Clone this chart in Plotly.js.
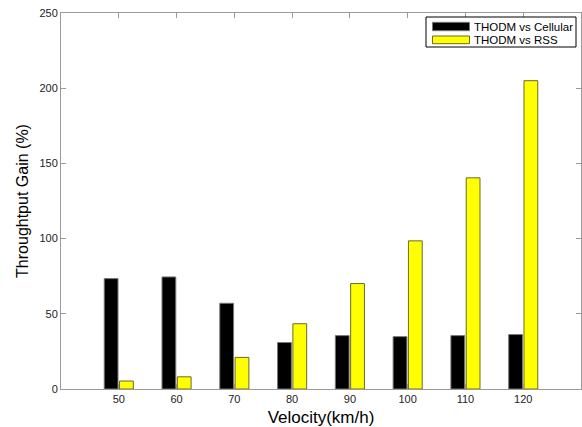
<!DOCTYPE html>
<html>
<head>
<meta charset="utf-8">
<script src="https://cdn.plot.ly/plotly-3.0.1.min.js"></script>
<style>html,body{margin:0;padding:0;background:#fff;}#chart{width:582px;height:427px;}</style>
</head>
<body>
<div id="chart"></div>
<script>
const velocities = [50, 60, 70, 80, 90, 100, 110, 120];
const gainVsCellular = [73.4, 74.5, 57, 30.9, 35.5, 34.8, 35.5, 36.2];
const gainVsRSS = [5.3, 8.1, 21, 43.4, 70.1, 98.5, 140.4, 205];
const seriesNames = ['THODM vs Cellular', 'THODM vs RSS'];
const seriesColors = ['#000000', '#ffff00'];
const seriesEdges = ['#777777', '#6b6b2a'];
const yTicks = [0, 50, 100, 150, 200, 250];

const FONT = 'Liberation Sans, Arial, sans-serif';

const traces = [0, 1].map(i => ({
  type: 'bar', x: velocities, y: i === 0 ? gainVsCellular : gainVsRSS, name: seriesNames[i],
  marker: {color: seriesColors[i], line: {color: seriesEdges[i], width: 1}}
}));

// custom MATLAB-style legend (paper coords: plot area 61..581 x, 13..389 y)
const px = v => (v - 61) / 520;
const py = v => (389 - v) / 376;
const shapes = [
  {type: 'rect', xref: 'paper', yref: 'paper', x0: px(426), x1: px(576), y0: py(47), y1: py(17),
   line: {color: '#000', width: 1}, fillcolor: '#fff'}
];
const annotations = [];
const rows = [[22.3, 30.7], [36, 43.7]];
rows.forEach((r, i) => {
  shapes.push({type: 'rect', xref: 'paper', yref: 'paper', x0: px(432.5), x1: px(469.5), y0: py(r[1]), y1: py(r[0]),
    line: {color: seriesEdges[i], width: 1}, fillcolor: seriesColors[i]});
  annotations.push({xref: 'paper', yref: 'paper', x: px(472), y: py((r[0] + r[1]) / 2), xanchor: 'left', yanchor: 'middle',
    text: seriesNames[i], showarrow: false, font: {family: FONT, size: 11.5, color: '#000'}});
});

const axisCommon = {
  showline: true, linecolor: '#9a9a9a', linewidth: 1, mirror: 'ticks',
  ticks: 'inside', ticklen: 5, tickcolor: '#9a9a9a', showgrid: false, zeroline: false,
  tickfont: {family: FONT, size: 11, color: '#222'}
};

const layout = {
  width: 582, height: 427,
  margin: {l: 61, r: 1, t: 13, b: 38},
  paper_bgcolor: '#ffffff', plot_bgcolor: '#ffffff',
  barmode: 'group', bargap: 0.47, bargroupgap: 0.1,
  showlegend: false,
  shapes: shapes,
  annotations: annotations,
  xaxis: Object.assign({}, axisCommon, {
    range: [40, 130], tickmode: 'array', tickvals: velocities, ticktext: velocities.map(String),
    title: {text: 'Velocity(km/h)', standoff: 6, font: {family: FONT, size: 17, color: '#000'}}
  }),
  yaxis: Object.assign({}, axisCommon, {
    range: [0, 250], tickmode: 'array', tickvals: yTicks,
    title: {text: 'Throughtput Gain (%)', standoff: 6, font: {family: FONT, size: 16, color: '#000'}}
  })
};

Plotly.newPlot('chart', traces, layout, {displayModeBar: false, staticPlot: true});
</script>
</body>
</html>
